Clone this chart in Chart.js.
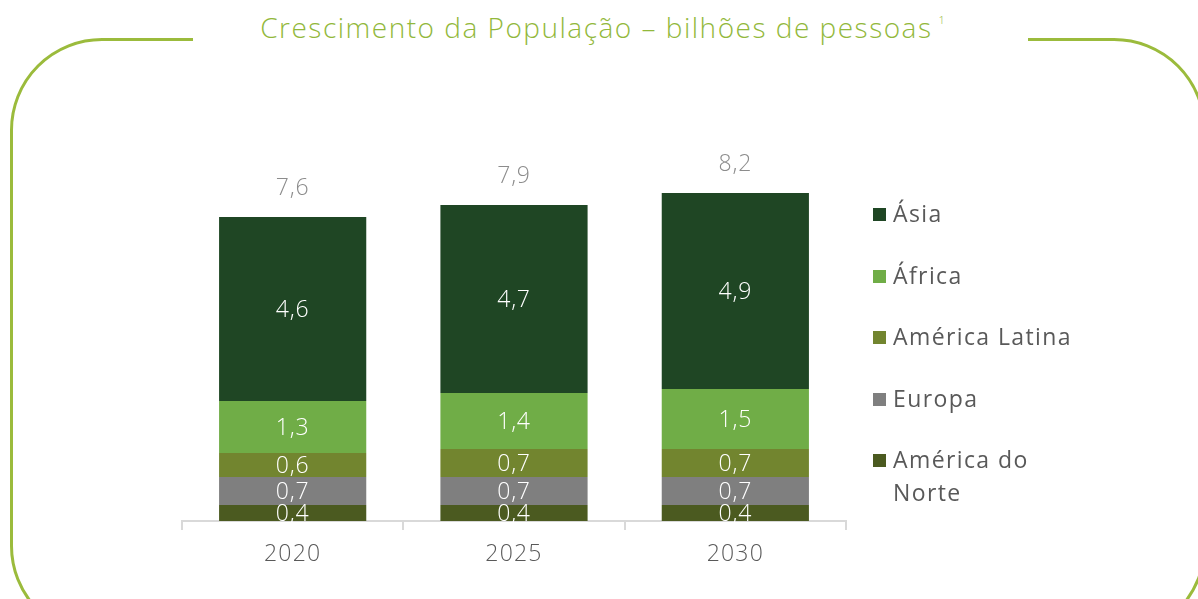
<!DOCTYPE html>
<html>
<head>
<meta charset="utf-8">
<script src="https://cdn.jsdelivr.net/npm/chart.js@4.4.0/dist/chart.umd.min.js"></script>
<style>
  html, body { margin: 0; padding: 0; background: #fff; overflow: hidden; }
  body { width: 1198px; height: 599px; position: relative; font-family: "Open Sans", sans-serif; }
  #frame {
    position: absolute; left: 10px; top: 38px; width: 1196px; height: 600px;
    border: 3px solid #9bbb3c; border-radius: 92px; box-sizing: border-box;
  }
  #title {
    position: absolute; left: 193px; width: 835px; top: -2px; height: 50px;
    background: #fff; text-align: center; color: #92b83b; padding-right: 16px; box-sizing: border-box;
    font-size: 28px; font-weight: 300; line-height: 44px; letter-spacing: 1.5px;
  }
  #title sup { font-size: 11px; vertical-align: 14px; margin-left: 6px; letter-spacing: 0; }
  #chartBox { position: absolute; left: 0; top: 0; width: 1198px; height: 599px; }
  #legend { position: absolute; left: 873px; top: 200px; width: 230px; }
  .item { position: relative; height: 61.5px; }
  .box { position: absolute; left: 0; top: 8px; width: 13px; height: 13px; }
  .txt { position: absolute; left: 20px; top: 0; width: 196px; color: #595959;
         font-size: 23px; font-weight: 400; line-height: 33px; margin-top: -3px; letter-spacing: 1.4px; }
</style>
</head>
<body>
<div id="frame"></div>
<div id="title">Crescimento da População – bilhões de pessoas<sup>1</sup></div>
<div id="chartBox"><canvas id="popChart" width="1198" height="599"></canvas></div>
<div id="legend"></div>
<script>
  // dados (bilhões de pessoas)
  var categories = ['2020', '2025', '2030'];
  var seriesNames = ['América do Norte', 'Europa', 'América Latina', 'África', 'Ásia'];
  var americaNorte = [0.4, 0.4, 0.4];
  var europa = [0.7, 0.7, 0.7];
  var americaLatina = [0.6, 0.7, 0.7];
  var africa = [1.3, 1.4, 1.5];
  var asia = [4.6, 4.7, 4.9];
  var totals = [7.6, 7.9, 8.2];
  var colors = ['#4b5a20', '#7f7f7f', '#72852f', '#70ad47', '#1f4624'];

  var seriesValues = [americaNorte, europa, americaLatina, africa, asia];
  var fontFamily = '"Open Sans", sans-serif';

  function fmt(v) {
    return v.toFixed(1).replace('.', ',');
  }

  // espaçamento das letras parecido com o original
  var spacingPlugin = {
    id: 'spacing',
    beforeDraw: function(chart) {
      chart.ctx.letterSpacing = '1.2px';
    }
  };

  var labelPlugin = {
    id: 'barLabels',
    afterDatasetsDraw: function(chart) {
      var ctx = chart.ctx;
      ctx.save();
      ctx.textAlign = 'center';
      ctx.letterSpacing = '0.8px';
      ctx.font = '300 23px ' + fontFamily;
      chart.data.datasets.forEach(function(ds, i) {
        var meta = chart.getDatasetMeta(i);
        meta.data.forEach(function(el, j) {
          ctx.fillStyle = '#ffffff';
          ctx.textBaseline = 'middle';
          ctx.fillText(fmt(ds.data[j]), el.x, (el.y + el.base) / 2 + 1);
          if (i === chart.data.datasets.length - 1) {
            ctx.fillStyle = '#8c8c8c';
            ctx.textBaseline = 'alphabetic';
            ctx.fillText(fmt(totals[j]), el.x, el.y - 22);
          }
        });
      });
      ctx.restore();
    }
  };

  var ctx = document.getElementById('popChart').getContext('2d');
  var myChart = new Chart(ctx, {
    type: 'bar',
    data: {
      labels: categories,
      datasets: seriesValues.map(function(vals, i) {
        return {
          label: seriesNames[i],
          data: vals,
          backgroundColor: colors[i],
          borderWidth: 0,
          barPercentage: 0.665,
          categoryPercentage: 1
        };
      })
    },
    options: {
      responsive: false,
      animation: false,
      layout: { padding: { left: 182, right: 352, top: 161, bottom: 0 } },
      plugins: {
        legend: { display: false },
        title: { display: false },
        tooltip: { enabled: false }
      },
      scales: {
        x: {
          stacked: true,
          afterFit: function(s) { s.height = 78; },
          grid: {
            offset: true,
            drawOnChartArea: false,
            drawTicks: true,
            tickLength: 9,
            color: '#d9d9d9',
            lineWidth: 2
          },
          border: { display: true, color: '#d9d9d9', width: 2 },
          ticks: {
            color: '#595959',
            padding: 11,
            font: { family: fontFamily, size: 23, weight: 300 }
          }
        },
        y: {
          stacked: true,
          display: false,
          min: 0,
          max: 9
        }
      }
    },
    plugins: [spacingPlugin, labelPlugin]
  });

  // legenda (ordem inversa, como na figura)
  var legend = document.getElementById('legend');
  for (var i = seriesNames.length - 1; i >= 0; i--) {
    var item = document.createElement('div');
    item.className = 'item';
    item.innerHTML = '<div class="box" style="background:' + colors[i] + '"></div>' +
      '<div class="txt">' + seriesNames[i] + '</div>';
    legend.appendChild(item);
  }
</script>
</body>
</html>
